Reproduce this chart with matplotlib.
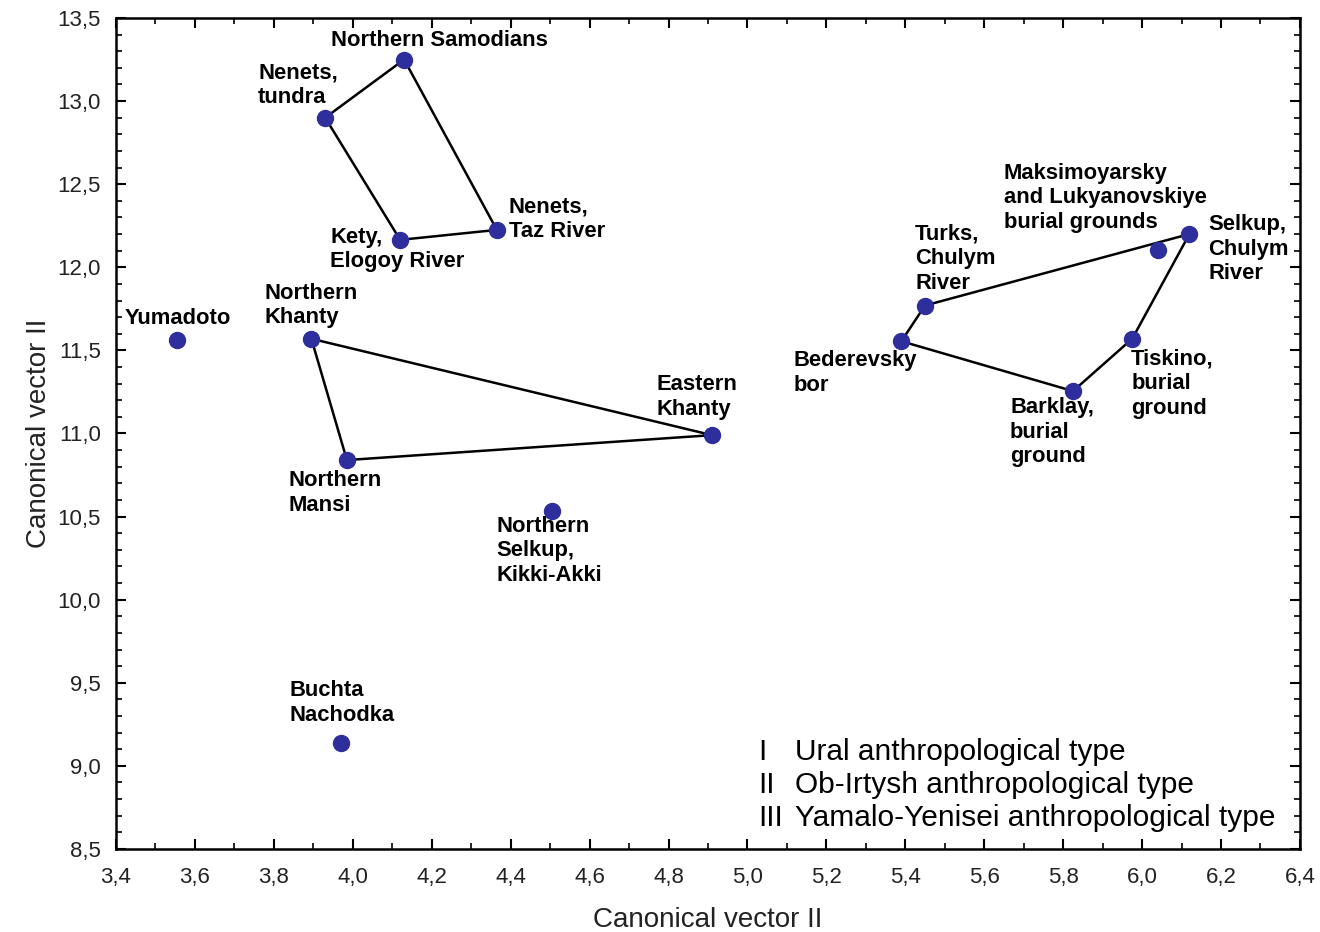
import matplotlib
matplotlib.use("Agg")
import matplotlib.pyplot as plt
from matplotlib.ticker import MultipleLocator, FuncFormatter

plt.rcParams['font.family'] = ['Liberation Sans', 'DejaVu Sans']

# group samples: canonical vector coordinates
names = ["Northern Samodians", "Nenets,\ntundra", "Kety,\nElogoy River", "Nenets,\nTaz River",
         "Yumadoto", "Northern\nKhanty", "Eastern\nKhanty", "Northern\nMansi",
         "Northern\nSelkup,\nKikki-Akki", "Buchta\nNachodka",
         "Bederevsky\nbor", "Turks,\nChulym\nRiver", "Maksimoyarsky\nand Lukyanovskiye\nburial grounds",
         "Selkup,\nChulym\nRiver", "Tiskino,\nburial\nground", "Barklay,\nburial\nground"]
cv_x = [4.13, 3.93, 4.12, 4.365, 3.555, 3.895, 4.91, 3.985, 4.505, 3.97,
        5.39, 5.45, 6.04, 6.12, 5.975, 5.825]
cv_y = [13.25, 12.90, 12.165, 12.225, 11.56, 11.57, 10.99, 10.84, 10.535, 9.135,
        11.555, 11.77, 12.105, 12.20, 11.57, 11.255]

# outlines of the three anthropological types (indices into the lists above)
hulls = [[0, 1, 2, 3, 0], [5, 6, 7, 5], [10, 11, 13, 14, 15, 10]]

# label offsets from the point, in pixels (text top-left corner)
label_dx = [-73, -67, -70, 12, -53, -47, -55, -58, -56, -51, -108, -10, -154, 19, -1, -63]
label_dy = [30, 55, 13, 33, 32, 56, 61, -10, -5, 63, -9, 82, 87, 20, -10, -6]

types_num = ["I", "II", "III"]
types_txt = ["Ural anthropological type", "Ob-Irtysh anthropological type",
             "Yamalo-Yenisei anthropological type"]

fig = plt.figure(figsize=(13.2, 9.32), dpi=100)
ax = fig.add_axes([0.0879, 0.0891, 0.8969, 0.8916])

for h in hulls:
    ax.plot([cv_x[i] for i in h], [cv_y[i] for i in h], color="black", lw=1.8, zorder=2)
ax.plot(cv_x, cv_y, "o", color="#2e2e9c", ms=11.5, zorder=3)

for n, x, y, dx, dy in zip(names, cv_x, cv_y, label_dx, label_dy):
    ax.annotate(n, (x, y), xytext=(dx, dy), textcoords="offset pixels",
                ha="left", va="top", fontsize=15.8, fontweight="bold", linespacing=1.22)

for i, (a, b) in enumerate(zip(types_num, types_txt)):
    fig.text(758 / 1320, 1 - (752 + 33 * i) / 932, a, fontsize=21.5, va="center", ha="left")
    fig.text(795 / 1320, 1 - (752 + 33 * i) / 932, b, fontsize=21.5, va="center", ha="left")

ax.set_xlim(3.4, 6.4)
ax.set_ylim(8.5, 13.5)
ax.xaxis.set_major_locator(MultipleLocator(0.2))
ax.xaxis.set_minor_locator(MultipleLocator(0.1))
ax.yaxis.set_major_locator(MultipleLocator(0.5))
ax.yaxis.set_minor_locator(MultipleLocator(0.1))
comma = FuncFormatter(lambda v, p: f"{v:.1f}".replace(".", ","))
ax.xaxis.set_major_formatter(comma)
ax.yaxis.set_major_formatter(comma)
ax.tick_params(which="both", direction="in", top=True, right=True, labelsize=16, labelcolor="#222222")
ax.tick_params(which="major", length=7, width=1.5)
ax.tick_params(which="minor", length=4, width=1.2)
ax.tick_params(axis="x", which="major", pad=13)
ax.tick_params(axis="y", which="major", pad=11)
for s in ax.spines.values():
    s.set_linewidth(1.8)

ax.set_xlabel("Canonical vector II", fontsize=20, color="#222222", labelpad=14)
ax.set_ylabel("Canonical vector II", fontsize=20, color="#222222", labelpad=4)

fig.savefig("out.png", dpi=100)
